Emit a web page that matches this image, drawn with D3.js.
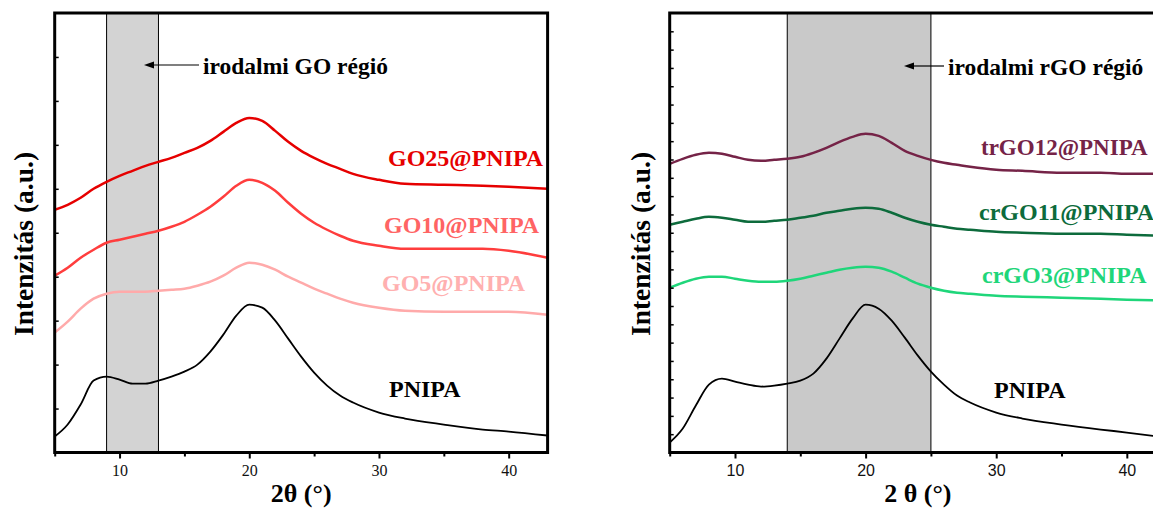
<!DOCTYPE html>
<html>
<head>
<meta charset="utf-8">
<script src="https://cdn.jsdelivr.net/npm/d3@7"></script>
<style>
    body { margin: 0; background: #fff; }
    text { font-family: "Liberation Serif", "Times New Roman", serif; }
</style>
</head>
<body>
<div id="container"></div>
<script>
// 2θ grid shared by every pattern
const angles = [5, 6, 7, 8, 9, 10, 11, 12, 13, 14, 15, 16, 17, 18, 19, 20, 21, 22, 23, 24, 25, 26, 27, 28, 30, 32, 35, 38, 40, 43];

// left panel (GO), intensity in a.u.
const pnipaA = [16, 28, 48, 72, 76, 73, 69, 69, 72, 76, 81, 88, 101, 118, 137, 148, 145, 132, 114, 96, 80, 67, 57, 50, 40, 34, 28, 23, 21, 17];
const go5 = [120, 131, 144, 154, 159, 161, 161, 161, 162, 163, 164, 167, 171, 177, 185, 190, 188, 183, 176, 170, 164, 159, 154, 150, 145, 142, 141, 141, 141, 138];
const go10 = [177, 185, 195, 203, 210, 213, 216, 219, 222, 226, 231, 238, 246, 256, 267, 273, 270, 262, 250, 239, 230, 223, 217, 212, 207, 204, 204, 204, 202, 195];
const go25 = [243, 248, 255, 264, 271, 277, 282, 287, 291, 295, 300, 305, 312, 321, 330, 335, 332, 322, 311, 302, 295, 289, 284, 279, 273, 269, 268, 267, 266, 264];

// right panel (rGO)
const pnipaB = [10, 24, 47, 68, 74, 71, 68, 66, 67, 69, 72, 79, 94, 114, 134, 148, 144, 132, 115, 97, 81, 68, 57, 50, 40, 34, 28, 23, 20, 15];
const crgo3 = [165, 170, 174, 176, 176, 174, 172, 171, 171, 172, 174, 177, 180, 183, 185, 186, 185, 181, 175, 169, 165, 162, 160, 159, 157, 156, 155, 154, 153, 152];
const crgo11 = [228, 231, 234, 236, 235, 233, 231, 231, 232, 233, 235, 237, 240, 242, 244, 245, 244, 240, 235, 231, 228, 226, 224, 223, 221, 220, 219, 219, 218, 217];
const trgo12 = [289, 294, 298, 300, 299, 296, 293, 292, 293, 294, 296, 300, 305, 311, 316, 319, 317, 310, 302, 297, 293, 290, 288, 286, 283, 282, 280, 280, 279, 279];

const majorTicks = [10, 20, 30, 40];
const minorTicks = [5, 15, 25, 35];
const bandGO = [9, 13];
const bandRGO = [14, 25];

let viz = d3.select('#container')
    .append('svg')
    .attr('width', 1153)
    .attr('height', 510)
    ;

function panel(opt) {
    let x = d3.scaleLinear().domain([5, 43]).range([opt.left, opt.right]);
    let y = d3.scaleLinear().domain([0, 440]).range([452.5, 13]);
    let g = viz.append('g');

    let clipId = 'clip' + opt.id;
    g.append('clipPath').attr('id', clipId)
        .append('rect')
        .attr('x', x(5)).attr('y', 13)
        .attr('width', x(43) - x(5)).attr('height', 439.5);

    // literature region
    g.append('rect')
        .attr('x', x(opt.band[0]))
        .attr('y', 13)
        .attr('width', x(opt.band[1]) - x(opt.band[0]))
        .attr('height', 439.5)
        .attr('fill', opt.bandColor)
        .attr('stroke', '#000')
        .attr('stroke-width', 1);

    let line = d3.line()
        .x((d, i) => x(angles[i]))
        .y(d => y(d))
        .curve(d3.curveMonotoneX);

    opt.series.forEach(s => {
        g.append('path')
            .attr('d', line(s.values))
            .attr('fill', 'none')
            .attr('stroke', s.color)
            .attr('stroke-width', s.width)
            .attr('stroke-linejoin', 'round')
            .attr('clip-path', 'url(#' + clipId + ')');
        g.append('text')
            .attr('x', s.lx)
            .attr('y', s.ly)
            .attr('fill', s.textColor || s.color)
            .attr('font-size', s.size || 24)
            .attr('font-weight', 'bold')
            .text(s.name);
    });

    // ticks
    let fontTick = opt.sansTicks ? '"Liberation Sans", Arial, sans-serif' : '"Liberation Serif", serif';
    let xa = g.append('g')
        .attr('transform', 'translate(0,452.5)')
        .call(d3.axisBottom(x).tickValues(majorTicks).tickSize(6).tickSizeOuter(0).tickPadding(6));
    xa.select('.domain').remove();
    xa.selectAll('line').attr('stroke-width', 2);
    xa.selectAll('text').attr('font-size', 16).style('font-family', fontTick).attr('fill', '#111');

    let xm = g.append('g')
        .attr('transform', 'translate(0,452.5)')
        .call(d3.axisBottom(x).tickValues(minorTicks).tickSize(4).tickFormat(''));
    xm.select('.domain').remove();
    xm.selectAll('line').attr('stroke-width', 2);

    let ya = g.append('g')
        .attr('transform', 'translate(' + x(5) + ',0)')
        .call(d3.axisLeft(y).tickValues(d3.range(1, opt.ny).map(k => k * 440 / opt.ny)).tickSize(-4).tickFormat(''));
    ya.select('.domain').remove();
    ya.selectAll('line').attr('stroke-width', 1.5);

    // frame
    g.append('rect')
        .attr('x', x(5)).attr('y', 13)
        .attr('width', x(43) - x(5)).attr('height', 439.5)
        .attr('fill', 'none')
        .attr('stroke', '#000')
        .attr('stroke-width', 3);

    // annotation arrow + text
    g.append('line')
        .attr('x1', opt.arrow[0]).attr('x2', opt.arrow[1] + 8)
        .attr('y1', opt.arrowY).attr('y2', opt.arrowY)
        .attr('stroke', '#000').attr('stroke-width', 1.2);
    g.append('path')
        .attr('d', 'M' + opt.arrow[1] + ',' + opt.arrowY + ' l10,-3.5 l0,7 z')
        .attr('fill', '#000');
    g.append('text')
        .attr('x', opt.arrow[0] + 4)
        .attr('y', opt.arrowY + 9)
        .attr('font-size', 23.5)
        .attr('font-weight', 'bold')
        .text(opt.note);

    // axis titles
    g.append('text')
        .attr('x', (x(5) + x(43)) / 2)
        .attr('y', 502)
        .attr('text-anchor', 'middle')
        .attr('font-size', 26)
        .attr('font-weight', 'bold')
        .text(opt.xTitle);

    g.append('text')
        .attr('transform', 'translate(' + opt.yTitleX + ',244) rotate(-90)')
        .attr('text-anchor', 'middle')
        .attr('font-size', 27.5)
        .attr('font-weight', 'bold')
        .text('Intenzitás (a.u.)');
}

panel({
    id: 'a', left: 54.7, right: 547.6, band: bandGO, bandColor: '#d3d3d3', ny: 10,
    arrow: [199, 144], arrowY: 65, note: 'irodalmi GO régió',
    xTitle: '2θ (°)', yTitleX: 33, sansTicks: false,
    series: [
        { name: 'PNIPA', values: pnipaA, color: '#000', width: 1.8, lx: 389, ly: 397 },
        { name: 'GO5@PNIPA', values: go5, color: '#ffaaaa', textColor: '#ffb0b0', width: 2.5, lx: 382, ly: 291 },
        { name: 'GO10@PNIPA', values: go10, color: '#ff3d3d', textColor: '#ff6464', width: 2.5, lx: 384, ly: 233 },
        { name: 'GO25@PNIPA', values: go25, color: '#e60000', width: 2.5, lx: 388, ly: 166 }
    ]
});

panel({
    id: 'b', left: 669.7, right: 1166, band: bandRGO, bandColor: '#c9c9c9', ny: 24,
    arrow: [944, 904], arrowY: 66, note: 'irodalmi rGO régió',
    xTitle: '2 θ (°)', yTitleX: 650, sansTicks: true,
    series: [
        { name: 'PNIPA', values: pnipaB, color: '#000', width: 1.8, lx: 994, ly: 398 },
        { name: 'crGO3@PNIPA', values: crgo3, color: '#1fd67a', width: 2.5, lx: 982, ly: 283 },
        { name: 'crGO11@PNIPA', values: crgo11, color: '#0d6b3c', width: 2.5, lx: 979, ly: 220 },
        { name: 'trGO12@PNIPA', values: trgo12, color: '#752347', width: 2.5, lx: 981, ly: 155, size: 23 }
    ]
});
</script>
</body>
</html>
